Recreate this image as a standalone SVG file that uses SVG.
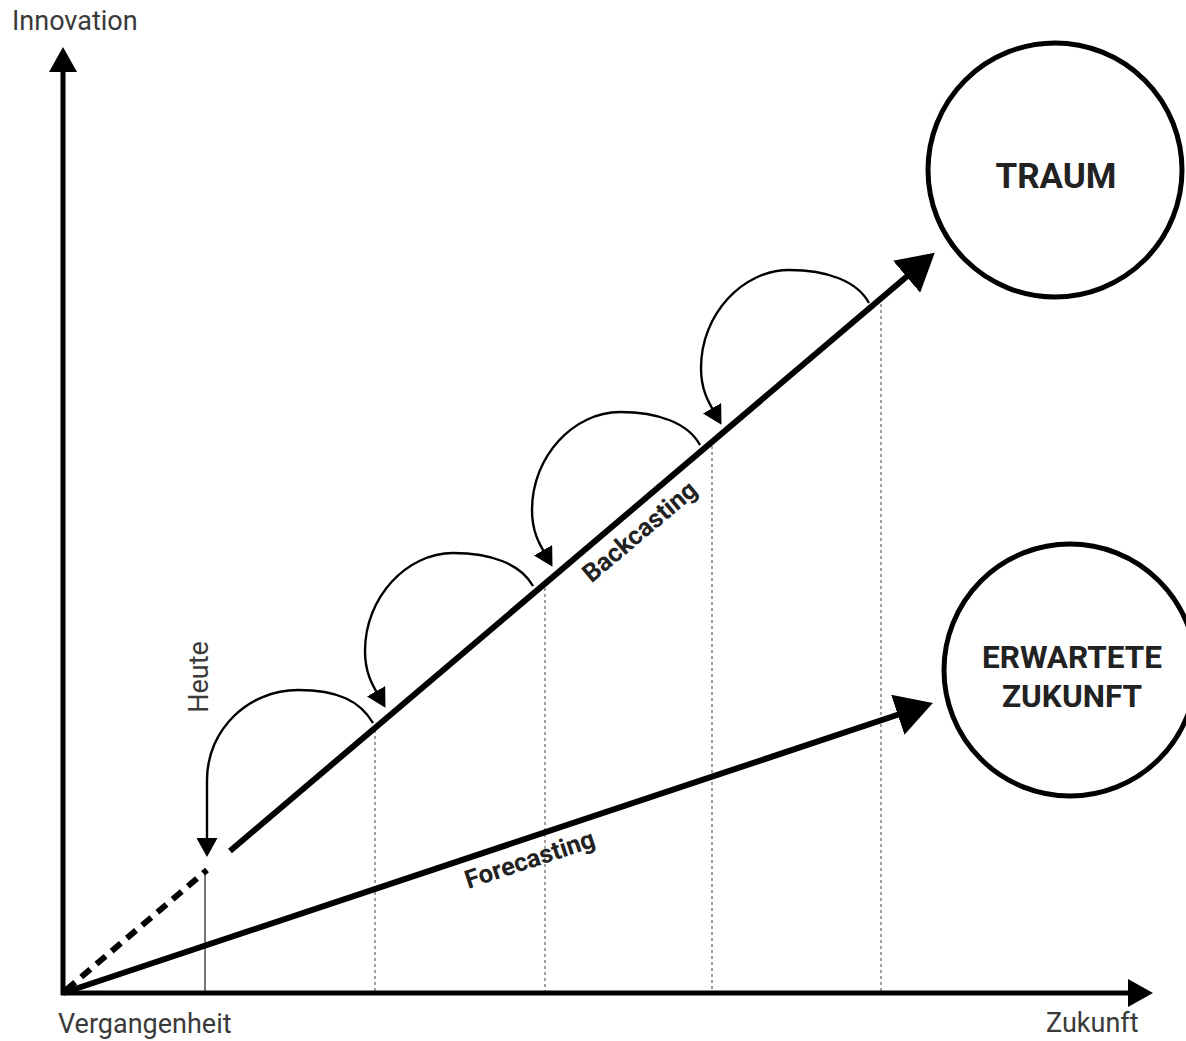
<svg xmlns="http://www.w3.org/2000/svg" width="1186" height="1041" viewBox="0 0 1186 1041">
  <style>
    .lbl { font-family: Roboto, "Liberation Sans", sans-serif; font-size: 27px; fill: #3a3a3a; }
    .bold { font-family: Roboto, "Liberation Sans", sans-serif; font-weight: bold; fill: #222; }
    .axis { stroke: #000; stroke-width: 5; fill: none; }
    .main { stroke: #000; stroke-width: 6; fill: none; }
    .dash { stroke: #000; stroke-width: 6; fill: none; stroke-dasharray: 12 8; }
    .arc { stroke: #000; stroke-width: 2.4; fill: none; }
    .dotted { stroke: #888; stroke-width: 1.6; stroke-dasharray: 3 3; fill: none; }
    .heute { stroke: #777; stroke-width: 2; fill: none; }
    .node { stroke: #000; stroke-width: 5; fill: #fff; }
  </style>
  <defs>
    <marker id="axisHead" markerUnits="userSpaceOnUse" viewBox="0 0 25 28" markerWidth="25" markerHeight="28" refX="13" refY="14" orient="auto">
      <path d="M0,0 L25,14 L0,28 z" fill="#000"/>
    </marker>
    <marker id="bigHead" markerUnits="userSpaceOnUse" viewBox="0 0 37 42" markerWidth="37" markerHeight="42" refX="15" refY="21" orient="auto">
      <path d="M0,0 L37,21 L0,42 z" fill="#000"/>
    </marker>
    <marker id="smallHead" markerUnits="userSpaceOnUse" viewBox="0 0 19 21" markerWidth="19" markerHeight="21" refX="10" refY="10.5" orient="auto">
      <path d="M0,0 L19,10.5 L0,21 z" fill="#000"/>
    </marker>
  </defs>

  <g id="guides">
    <line class="heute" x1="205" y1="870" x2="205" y2="993"/>
    <line class="dotted" x1="375" y1="730" x2="375" y2="993"/>
    <line class="dotted" x1="545" y1="588" x2="545" y2="993"/>
    <line class="dotted" x1="712" y1="446" x2="712" y2="993"/>
    <line class="dotted" x1="881" y1="304" x2="881" y2="993"/>
  </g>

  <g id="connectors">
    <line class="axis" x1="63" y1="995" x2="63" y2="59" marker-end="url(#axisHead)"/>
    <line class="axis" x1="61" y1="993" x2="1141" y2="993" marker-end="url(#axisHead)"/>
    <line class="dash" x1="66" y1="990" x2="207" y2="870"/>
    <line class="main" x1="230" y1="851" x2="918" y2="267" marker-end="url(#bigHead)"/>
    <line class="main" x1="63" y1="993" x2="912" y2="710" marker-end="url(#bigHead)"/>
    <path class="arc" d="M373,723 C360,701 338,690 298,690 C248,690 207,730 207,780 L207,848" marker-end="url(#smallHead)"/>
    <path class="arc" transform="translate(533,586)" d="M0,0 C-12,-22 -42,-33 -80,-33 C-126,-33 -168,11 -168,65 C-168,88 -160,100 -152,114" marker-end="url(#smallHead)"/>
    <path class="arc" transform="translate(700,445)" d="M0,0 C-12,-22 -42,-33 -80,-33 C-126,-33 -168,11 -168,65 C-168,88 -160,100 -152,114" marker-end="url(#smallHead)"/>
    <path class="arc" transform="translate(869,303)" d="M0,0 C-12,-22 -42,-33 -80,-33 C-126,-33 -168,11 -168,65 C-168,88 -160,100 -152,114" marker-end="url(#smallHead)"/>
  </g>

  <g id="traum">
    <circle class="node" cx="1055" cy="170" r="127"/>
    <text class="bold" x="1056" y="188" font-size="35" text-anchor="middle">TRAUM</text>
  </g>
  <g id="erwartete-zukunft">
    <circle class="node" cx="1070" cy="670" r="126"/>
    <text class="bold" x="1072" y="668" font-size="31.5" text-anchor="middle">ERWARTETE</text>
    <text class="bold" x="1072" y="707" font-size="31.5" text-anchor="middle">ZUKUNFT</text>
  </g>

  <g id="labels">
    <text class="lbl" x="12" y="30">Innovation</text>
    <text class="lbl" x="58" y="1033">Vergangenheit</text>
    <text class="lbl" x="1046" y="1032">Zukunft</text>
    <text class="lbl" transform="translate(208,677) rotate(-90)" text-anchor="middle">Heute</text>
    <text class="bold" font-size="25.5" transform="translate(640,532) rotate(-40.2)" text-anchor="middle" y="8">Backcasting</text>
    <text class="bold" font-size="25.5" transform="translate(530,860) rotate(-18.4)" text-anchor="middle" y="8">Forecasting</text>
  </g>
</svg>
